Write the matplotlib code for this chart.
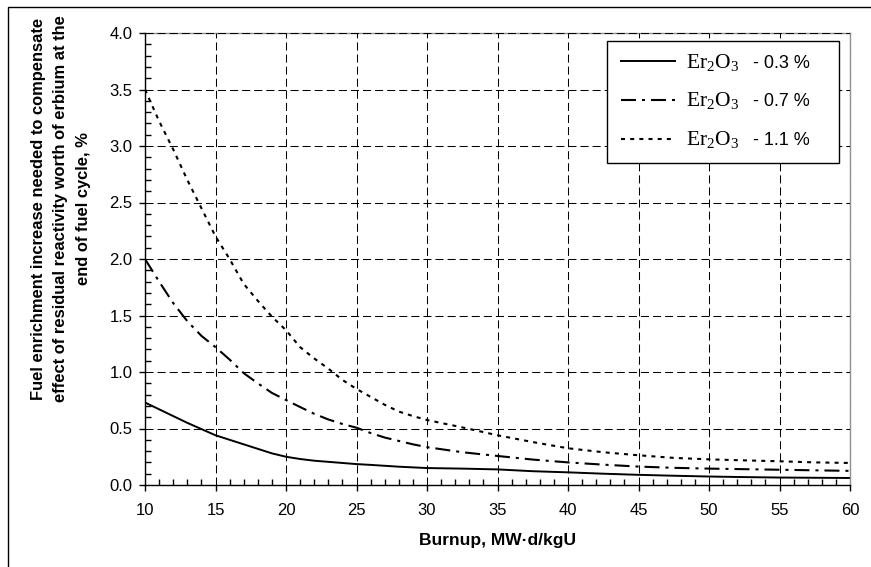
import numpy as np
import matplotlib
matplotlib.use('Agg')
import matplotlib.pyplot as plt
from matplotlib.patches import Rectangle

plt.rcParams['font.family'] = ['Liberation Sans', 'DejaVu Sans']
plt.rcParams['mathtext.fontset'] = 'custom'
plt.rcParams['mathtext.rm'] = 'Liberation Serif'
plt.rcParams['mathtext.it'] = 'Liberation Serif:italic'
plt.rcParams['mathtext.bf'] = 'Liberation Serif:bold'
# dash lengths given in points, not scaled by line width
plt.rcParams['lines.scale_dashes'] = False

# burnup, MW*d/kgU
burnup = [10, 11, 12, 13, 14, 15, 16, 17, 18, 19, 20, 21, 22, 23, 24, 25,
          26, 27, 28, 29, 30, 32.5, 35, 37.5, 40, 42.5, 45, 47.5, 50,
          52.5, 55, 57.5, 60]

# enrichment increase, %
er_03 = [0.73, 0.67, 0.61, 0.55, 0.495, 0.44, 0.40, 0.36, 0.32, 0.28, 0.25,
         0.23, 0.215, 0.205, 0.195, 0.185, 0.178, 0.17, 0.162, 0.156, 0.15,
         0.145, 0.138, 0.122, 0.112, 0.10, 0.09, 0.082, 0.075, 0.07, 0.066,
         0.064, 0.062]
er_07 = [2.0, 1.8, 1.61, 1.45, 1.32, 1.22, 1.11, 0.99, 0.9, 0.815, 0.752,
         0.69, 0.63, 0.58, 0.54, 0.507, 0.46, 0.42, 0.39, 0.36, 0.335, 0.29,
         0.257, 0.225, 0.2, 0.18, 0.163, 0.152, 0.145, 0.14, 0.135, 0.13,
         0.125]
er_11 = [3.5, 3.22, 2.97, 2.7, 2.45, 2.2, 2.0, 1.78, 1.63, 1.49, 1.37, 1.22,
         1.12, 1.03, 0.93, 0.85, 0.78, 0.71, 0.65, 0.61, 0.575, 0.51, 0.44,
         0.38, 0.325, 0.29, 0.263, 0.24, 0.227, 0.218, 0.21, 0.2, 0.195]

oxide = r'$\mathrm{Er_2O_3}$'
contents = ['- 0.3 %', '- 0.7 %', '- 1.1 %']

W, H = 871, 567
fig = plt.figure(figsize=(W / 100, H / 100), dpi=100)
ax = fig.add_axes([145 / W, 1 - 485 / H, 705 / W, 452 / H])

ax.plot(burnup, er_03, color='black', lw=1.4, linestyle='-',
        label=contents[0] + '   ')
ax.plot(burnup, er_07, color='black', lw=1.5,
        linestyle=(0, (10.8, 4.3, 2.2, 4.3)), label=contents[1] + '   ')
ax.plot(burnup, er_11, color='black', lw=1.5,
        linestyle=(0, (2.9, 3.7)), label=contents[2] + '   ')

ax.set_xlim(10, 60)
ax.set_ylim(0, 4.0)
ax.set_xticks(np.arange(10, 61, 5))
ax.set_xticks(np.arange(10, 61, 1), minor=True)
ax.set_yticks(np.arange(0, 4.01, 0.5))
ax.set_yticks(np.arange(0, 4.01, 0.1), minor=True)
ax.set_yticklabels(['%.1f' % v for v in np.arange(0, 4.01, 0.5)])

ax.tick_params(axis='both', which='major', direction='out', length=4,
               width=1, labelsize=12)
ax.tick_params(axis='both', which='minor', direction='in', length=4, width=1)
ax.tick_params(axis='x', which='major', pad=9)
ax.tick_params(axis='y', which='major', pad=5)

ax.grid(True, which='major', color='black', linewidth=0.75,
        linestyle=(0, (5.8, 2.9)))
ax.set_axisbelow(False)

for side in ['left', 'bottom']:
    ax.spines[side].set_color('black')
    ax.spines[side].set_linewidth(1.0)
for side in ['top', 'right']:
    ax.spines[side].set_color('#909090')
    ax.spines[side].set_linewidth(1.0)

ax.set_xlabel('Burnup, MW\u00b7d/kgU', fontsize=12.5, fontweight='bold')
ax.xaxis.set_label_coords(0.5, -(533 - 485) / 452)

fig.text(61 / W, 1 - 209 / H,
         'Fuel enrichment increase needed to compensate\n'
         'effect of residual reactivity worth of erbium at the\n'
         'end of fuel cycle, %',
         rotation=90, ha='center', va='center', multialignment='center',
         fontsize=11.9, fontweight='bold', linespacing=1.6)

# wide gap between handle and text leaves room for the serif oxide name
leg = ax.legend(loc='upper right', bbox_to_anchor=(0.984, 0.982),
                fontsize=13, fancybox=False, framealpha=1, edgecolor='black',
                handlelength=3.0, handletextpad=4.35, labelspacing=1.2,
                borderpad=0.75, borderaxespad=0)
leg.get_frame().set_linewidth(1.0)

# write the oxide name in front of each legend entry
fig.canvas.draw()
renderer = fig.canvas.get_renderer()
for t in leg.get_texts():
    bb = t.get_window_extent(renderer)
    prop = t.get_fontproperties()
    _, _, d_lp = renderer.get_text_width_height_descent('lp', prop, ismath=False)
    _, _, d_s = renderer.get_text_width_height_descent(t.get_text(), prop,
                                                        ismath=False)
    fig.text((bb.x0 - 67) / W, (bb.y0 + max(d_lp, d_s)) / H, oxide,
             fontsize=15.5, ha='left', va='baseline')

# outer chart border (cut at right and bottom)
fig.patches.append(Rectangle((8 / W, -0.05), 1.1, 1 - 7 / H + 0.05,
                             transform=fig.transFigure, fill=False,
                             lw=1.0, ec='black'))

plt.savefig('out.png', dpi=100)
